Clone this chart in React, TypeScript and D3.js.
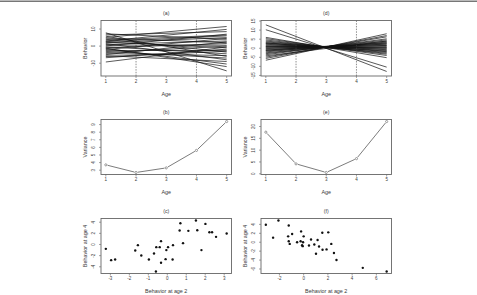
import React from "react";
import * as d3 from "d3";

const W = 477, H = 295;

// (a) / (d): one straight line per subject, value at age 1 and at age 5
const ages = [1, 2, 3, 4, 5];
const aStart = [7.8, 7.2, 6.5, 5.8, 5.1, 4.6, 4.0, 3.5, 3.0, 2.4, 2.0, 1.5, 1.0, 0.6, 0.1, -0.4, -0.9, -1.5, -2.0, -2.6, -3.1, -3.8, -4.4, -5.0, -5.6, -6.1, -6.8, -9.3, 2.6, -1.2];
const aEnd = [-14.5, 4.0, 8.5, -6.0, 11.5, 2.0, -3.5, 6.5, 9.8, -1.0, 5.0, -8.0, 3.0, 0.5, 7.0, -4.5, 1.5, -10.5, 4.5, -2.5, -7.0, 0.0, -5.5, 2.5, -9.0, -3.0, -1.8, -0.5, 6.0, -12.0];
const dStart = [12.9, 10.2, 6.0, 5.3, 4.6, 4.0, 3.5, 3.0, 2.6, 2.2, 1.8, 1.4, 1.0, 0.6, 0.2, -0.2, -0.6, -1.0, -1.5, -2.0, -2.5, -3.0, -3.6, -4.2, -4.9, -5.6, -6.6, 0.8, -1.2, 2.9];
const dEnd = [-12.8, -10.4, -5.2, -4.0, -3.3, -2.8, -1.9, -1.6, -0.8, -1.2, 0.0, -0.4, 0.6, 1.5, 0.9, 2.2, 1.6, 3.0, 2.4, 3.9, 3.4, 4.6, 5.2, 4.0, 6.3, 7.0, 8.0, 0.3, 2.8, -2.3];
const markAges = [2, 4];

// (b) / (e): variance by age
const varB = [3.7, 2.7, 3.3, 5.6, 9.4];
const varE = [17.6, 4.2, 0.56, 6.4, 22.1];

// (c) / (f): behaviour at age 2 vs age 4
const cX = [-3.24, -2.96, -2.75, -1.69, -1.55, -1.37, -0.97, -0.7, -0.58, -0.6, -0.4, -0.33, -0.33, -0.09, -0.05, 0.04, 0.28, 0.3, 0.65, 0.69, 0.83, 1.11, 1.51, 1.58, 1.8, 2.01, 2.22, 2.36, 2.57, 3.13];
const cY = [-0.78, -2.81, -2.69, -1.07, -0.12, -1.97, -2.69, -1.61, -0.48, -4.84, -0.48, 0.6, -3.28, -2.63, -1.01, -0.48, -2.69, -0.12, 2.51, 3.82, 0.24, 2.45, 4.3, 2.57, -1.01, 3.7, 2.21, 2.21, 1.37, 1.97];
const fX = [-3.12, -2.52, -2.08, -1.23, -1.28, -1.23, -1.15, -0.95, -0.54, -0.25, -0.21, -0.13, -0.05, 0.0, -0.08, 0.44, 0.61, 0.88, 1.02, 1.15, 1.27, 1.54, 1.56, 1.89, 2.03, 2.28, 2.5, 2.71, 4.88, 6.85];
const fY = [3.9, 1.03, 4.86, 3.75, 1.32, 0.22, -0.37, 1.83, 0.0, 0.22, 2.43, -0.66, 0.0, 1.32, -0.88, -0.73, 0.6, -0.51, -2.58, 0.51, -0.95, 2.14, -1.7, -1.61, 2.21, -0.37, -2.43, -3.97, -5.74, -6.55];

// tick labels
const ageTicks = [1, 2, 3, 4, 5];
const aYTicks = [-10, 0, 10];
const dYTicks = [-15, -10, -5, 0, 5, 10, 15];
const bYTicks = [3, 4, 5, 6, 7, 8, 9];
const eYTicks = [0, 5, 10, 15, 20];
const cXTicks = [-3, -2, -1, 0, 1, 2, 3];
const cYTicks = [-4, -2, 0, 2, 4];
const fXTicks = [-2, 0, 2, 4, 6];
const fYTicks = [-6, -4, -2, 0, 2, 4];

const FONT = "'Liberation Sans', Arial, sans-serif";
const TXT = "#3a3a3a";

const pad = (v: number[]): [number, number] => {
  const [lo, hi] = d3.extent(v) as [number, number];
  const r = hi - lo;
  return [lo - 0.04 * r, hi + 0.04 * r];
};

const colL = [101, 231.5];
const colR = [261, 391.5];
const row1 = [20.5, 76];
const row2 = [119.5, 174.5];
const row3 = [218.5, 273.5];

type PanelProps = {
  cols: number[];
  rows: number[];
  xDomain: [number, number];
  yDomain: [number, number];
  xTicks: number[];
  yTicks: number[];
  title: string;
  xLabel: string;
  yLabel: string;
  draw: (x: d3.ScaleLinear<number, number>, y: d3.ScaleLinear<number, number>) => React.ReactNode;
};

function Panel({ cols, rows, xDomain, yDomain, xTicks, yTicks, title, xLabel, yLabel, draw }: PanelProps) {
  const [x0, x1] = cols;
  const [y0, y1] = rows;
  const x = d3.scaleLinear().domain(xDomain).range([x0, x1]);
  const y = d3.scaleLinear().domain(yDomain).range([y1, y0]);
  const mx = (x0 + x1) / 2, my = (y0 + y1) / 2;
  return (
    <g fontFamily={FONT}>
      <defs>
        <clipPath id={"clip" + title}>
          <rect x={x0} y={y0} width={x1 - x0} height={y1 - y0} />
        </clipPath>
      </defs>
      <g clipPath={`url(#clip${title})`}>{draw(x, y)}</g>
      <rect x={x0} y={y0} width={x1 - x0} height={y1 - y0} fill="none" stroke="#666" strokeWidth={0.9} />
      {xTicks.map(t => (
        <g key={"x" + t}>
          <line x1={x(t)} x2={x(t)} y1={y1} y2={y1 + 2} stroke="#666" strokeWidth={0.6} />
          <text x={x(t)} y={y1 + 6.8} fontSize={4.5} textAnchor="middle" fill={TXT}>{t}</text>
        </g>
      ))}
      {yTicks.map(t => (
        <g key={"y" + t}>
          <line x1={x0 - 2} x2={x0} y1={y(t)} y2={y(t)} stroke="#666" strokeWidth={0.6} />
          <text transform={`translate(${x0 - 6.3},${y(t)}) rotate(-90)`} fontSize={4.5} textAnchor="middle" fill={TXT}>{t}</text>
        </g>
      ))}
      <text x={mx} y={y0 - 6} fontSize={5.2} textAnchor="middle" fill={TXT}>{title}</text>
      <text x={mx} y={y1 + 19.8} fontSize={5.4} textAnchor="middle" fill={TXT}>{xLabel}</text>
      <text transform={`translate(${x0 - 14},${my}) rotate(-90)`} fontSize={5.4} textAnchor="middle" fill={TXT}>{yLabel}</text>
    </g>
  );
}

const drawLines = (start: number[], end: number[]) => (x: any, y: any) => (
  <g>
    {start.map((s, i) => (
      <line key={i} x1={x(ages[0])} y1={y(s)} x2={x(ages[ages.length - 1])} y2={y(end[i])} stroke="#111" strokeWidth={0.7} />
    ))}
    {markAges.map(a => (
      <line key={"m" + a} x1={x(a)} x2={x(a)} y1={y.range()[0]} y2={y.range()[1]} stroke="#444" strokeWidth={0.6} strokeDasharray="1.5,1.2" />
    ))}
  </g>
);

const drawVar = (vals: number[]) => (x: any, y: any) => {
  const pts = vals.map((v, i) => [x(ages[i]), y(v)]);
  const gap = 1.8;
  return (
    <g>
      {pts.slice(1).map((p, i) => {
        const q = pts[i];
        const dx = p[0] - q[0], dy = p[1] - q[1];
        const L = Math.hypot(dx, dy);
        const ux = dx / L, uy = dy / L;
        return <line key={i} x1={q[0] + ux * gap} y1={q[1] + uy * gap} x2={p[0] - ux * gap} y2={p[1] - uy * gap} stroke="#444" strokeWidth={0.7} />;
      })}
      {pts.map((p, i) => <circle key={"p" + i} cx={p[0]} cy={p[1]} r={1.1} fill="none" stroke="#444" strokeWidth={0.5} />)}
    </g>
  );
};

const drawDots = (xs: number[], ys: number[]) => (x: any, y: any) => (
  <g>
    {xs.map((v, i) => <circle key={i} cx={x(v)} cy={y(ys[i])} r={1.2} fill="#111" />)}
  </g>
);

export default function App() {
  const ageDomain = pad(ages);
  return (
    <svg width={W} height={H} style={{ position: "absolute", left: 0, top: 0, background: "#fff" }}>
      <line x1={0} x2={W} y1={1.2} y2={1.2} stroke="#777" strokeWidth={1.4} />
      <Panel cols={colL} rows={row1} xDomain={ageDomain} yDomain={[-17.5, 15]} xTicks={ageTicks} yTicks={aYTicks}
        title="(a)" xLabel="Age" yLabel="Behavior" draw={drawLines(aStart, aEnd)} />
      <Panel cols={colR} rows={row1} xDomain={ageDomain} yDomain={[-15.3, 15.3]} xTicks={ageTicks} yTicks={dYTicks}
        title="(d)" xLabel="Age" yLabel="Behavior" draw={drawLines(dStart, dEnd)} />
      <Panel cols={colL} rows={row2} xDomain={ageDomain} yDomain={pad(varB)} xTicks={ageTicks} yTicks={bYTicks}
        title="(b)" xLabel="Age" yLabel="Variance" draw={drawVar(varB)} />
      <Panel cols={colR} rows={row2} xDomain={ageDomain} yDomain={pad(varE)} xTicks={ageTicks} yTicks={eYTicks}
        title="(e)" xLabel="Age" yLabel="Variance" draw={drawVar(varE)} />
      <Panel cols={colL} rows={row3} xDomain={pad(cX)} yDomain={pad(cY)} xTicks={cXTicks} yTicks={cYTicks}
        title="(c)" xLabel="Behavior at age 2" yLabel="Behavior at age 4" draw={drawDots(cX, cY)} />
      <Panel cols={colR} rows={row3} xDomain={pad(fX)} yDomain={pad(fY)} xTicks={fXTicks} yTicks={fYTicks}
        title="(f)" xLabel="Behavior at age 2" yLabel="Behavior at age 4" draw={drawDots(fX, fY)} />
    </svg>
  );
}
